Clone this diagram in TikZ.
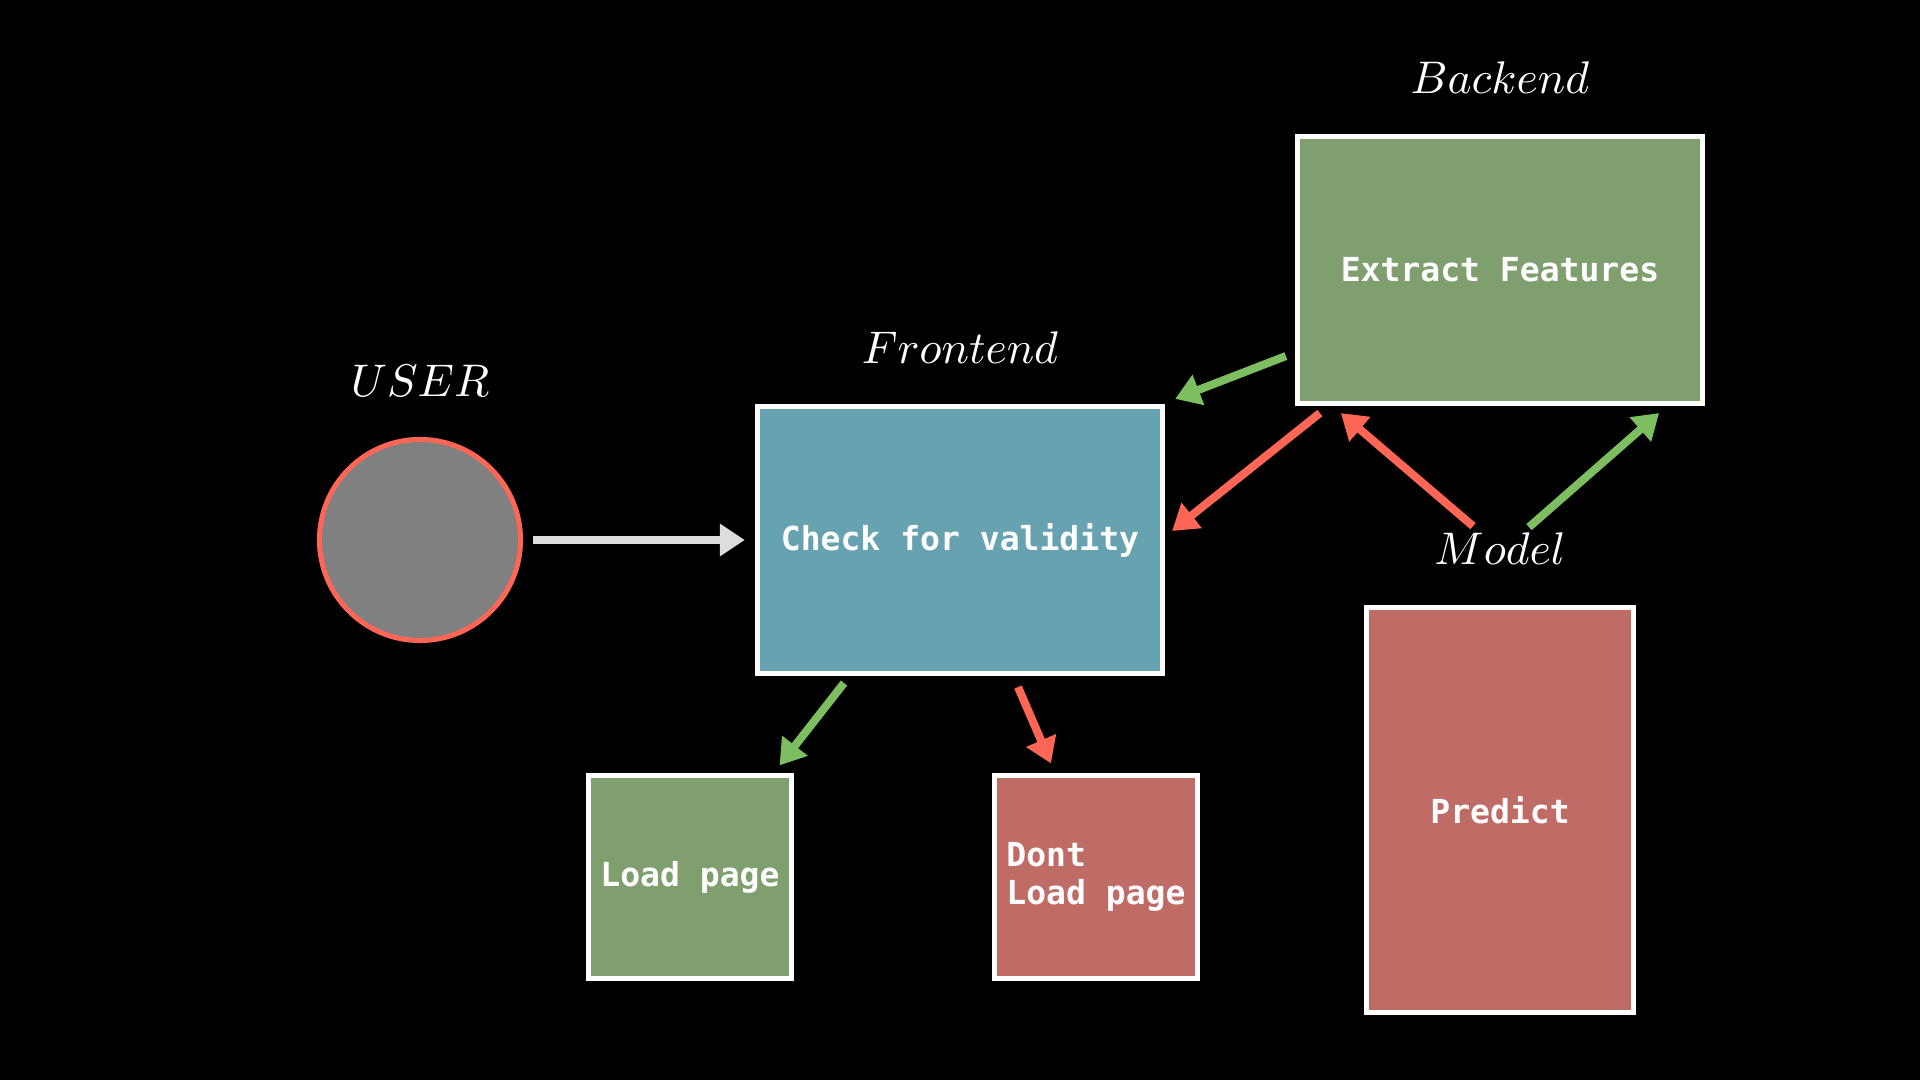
\documentclass[tikz,border=0pt]{standalone}
\usepackage{fontspec}
\setmonofont{DejaVu Sans Mono}
\usetikzlibrary{arrows.meta,calc}
\definecolor{frontblue}{HTML}{67A2B0}
\definecolor{boxgreen}{HTML}{7F9F6F}
\definecolor{boxred}{HTML}{C06C66}
\definecolor{usergray}{HTML}{808080}
\definecolor{linered}{HTML}{FF6655}
\definecolor{linegreen}{HTML}{7DBE60}
\definecolor{linewhite}{HTML}{DDDDDD}
\begin{document}
\begin{tikzpicture}[x=0.01cm,y=-0.01cm,
    box/.style={draw=white,line width=1.42pt,text=white,inner sep=0pt,
                font=\fontsize{9.4}{10.8}\selectfont\ttfamily\bfseries,
                minimum width=4.05cm,minimum height=2.67cm},
    lbl/.style={text=white,scale=1.3},
    flow/.style={line width=2.3pt,-{Triangle[length=0.25cm,width=0.31cm]}},
    label distance=0.19cm]
                % background
                \fill[black] (0,0) rectangle (1920,1080);
                \useasboundingbox (0,0) rectangle (1920,1080);

                % user and the boxes
                \node[circle,draw=linered,fill=usergray,line width=1.42pt,minimum size=2.01cm,
                      label={[name=userlbl,lbl]above:$USER$}] (user) at (420,540) {};
                \node[box,fill=frontblue,label={[name=frontlbl,lbl]above:$Frontend$}]
                      (front) at (960,540) {Check for validity};
                \node[box,fill=boxgreen,label={[name=backlbl,lbl]above:$Backend$}]
                      (back) at (1500,270) {Extract Features};
                \node[box,fill=boxred,minimum width=2.67cm,minimum height=4.05cm,
                      label={[name=modellbl,lbl]above:$Model$}] (predict) at (1500,810) {Predict};
                \node[box,fill=boxgreen,minimum width=2.02cm,minimum height=2.02cm]
                      (load) at (690,877) {Load page};
                \node[box,fill=boxred,minimum width=2.02cm,minimum height=2.02cm,align=left]
                      (dont) at (1096,877) {Dont\\Load page};

                % arrows
                \draw[flow,linewhite] ($(user.east)+(10,0)$) -- ($(front.west)+(-10,0)$);
                \draw[flow,linegreen] ($(back.south west)+(-9,-50)$) -- ($(front.north east)+(10,-5)$);
                \draw[flow,linered]   ($(back.south west)+(25,7)$)   -- ($(front.east)+(7,-9)$);
                \draw[flow,linered]   ($(modellbl)+(-27,-22)$) -- ($(back.south west)+(46,7)$);
                \draw[flow,linegreen] ($(modellbl)+(29,-21)$)  -- ($(back.south east)+(-46,7)$);
                \draw[flow,linegreen] ($(front.south)+(-116,7)$) -- ($(load.north east)+(-14,-8)$);
                \draw[flow,linered]   ($(front.south)+(58,11)$)  -- ($(dont.north)+(-45,-10)$);
\end{tikzpicture}
\end{document}
